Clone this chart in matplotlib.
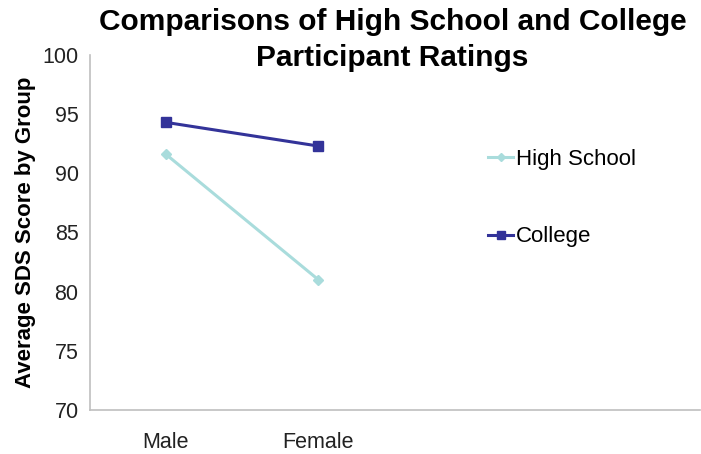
import matplotlib.pyplot as plt
import numpy as np

plt.rcParams['font.family'] = ['Liberation Sans', 'DejaVu Sans']

# Data
categories = ['Male', 'Female']
high_school = [91.6, 81.0]
college = [94.3, 92.3]
y_ticks = [70, 75, 80, 85, 90, 95, 100]

x = np.arange(len(categories))

fig = plt.figure(figsize=(7.01, 4.54), dpi=100)
ax = fig.add_axes([0.128, 0.097, 0.87, 0.782])

ax.plot(x, high_school, color='#A9DCDC', lw=2.2, marker='D', ms=5, label='High School')
ax.plot(x, college, color='#333399', lw=2.2, marker='s', ms=7, label='College')

ax.set_xlim(-0.5, 3.5)
ax.set_ylim(70, 100)
ax.set_yticks(y_ticks)
ax.set_xticks(x)
ax.set_xticklabels(categories)
ax.tick_params(axis='both', length=0, labelsize=15.5, colors='#222222')
ax.tick_params(axis='x', pad=16)
ax.tick_params(axis='y', pad=8)

for s in ['top', 'right']:
    ax.spines[s].set_visible(False)
for s in ['left', 'bottom']:
    ax.spines[s].set_color('#BFBFBF')
    ax.spines[s].set_linewidth(1.2)

ax.set_ylabel('Average SDS Score by Group', fontsize=16, fontweight='bold', labelpad=5)
fig.suptitle('Comparisons of High School and College\nParticipant Ratings',
             fontsize=21.5, fontweight='bold', y=0.982, x=0.56, linespacing=1.35)

ax.legend(loc='upper left', bbox_to_anchor=(0.62, 0.792), frameon=False, fontsize=16,
          handlelength=1.15, handletextpad=0.1, labelspacing=2.55, markerscale=0.8)

plt.savefig('out.png', dpi=100)
